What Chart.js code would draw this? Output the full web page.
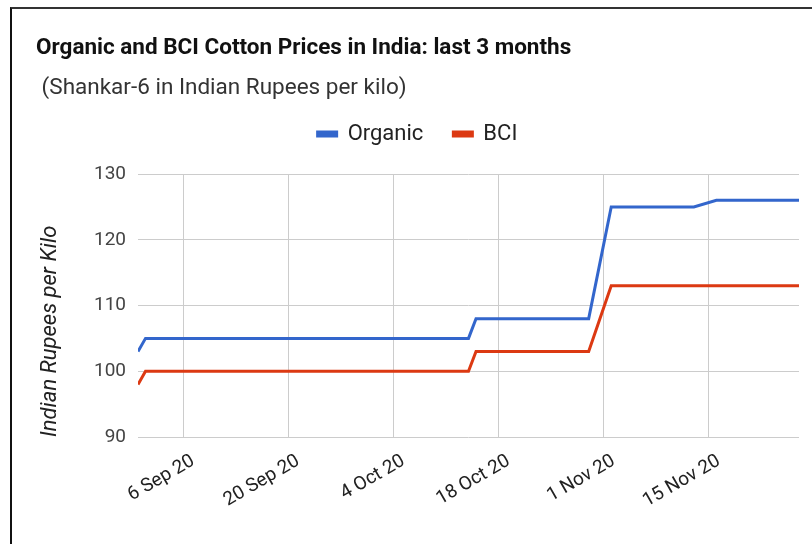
<!DOCTYPE html>
<html>
<head>
<meta charset="utf-8">
<script src="https://cdn.jsdelivr.net/npm/chart.js@4/dist/chart.umd.min.js"></script>
<style>
  html, body { margin: 0; padding: 0; background: #fff; }
  #frame { position: absolute; left: 10px; top: 7px; width: 802px; height: 537px;
           border-top: 2px solid #333; border-left: 2px solid #111; box-sizing: border-box; }
  #wrap { position: absolute; left: 0; top: 0; width: 812px; height: 544px; }
</style>
</head>
<body>
<div id="frame"></div>
<div id="wrap"><canvas id="priceChart"></canvas></div>
<script>
// days counted from 31 Aug 2020
var tickDays = [6, 20, 34, 48, 62, 76];
var tickLabels = ['6 Sep 20', '20 Sep 20', '4 Oct 20', '18 Oct 20', '1 Nov 20', '15 Nov 20'];

var organicDays = [0, 1, 44, 45, 60, 63, 74, 77, 88];
var organicPrices = [103, 105, 105, 108, 108, 125, 125, 126, 126];

var bciDays = [0, 1, 44, 45, 60, 63, 88];
var bciPrices = [98, 100, 100, 103, 103, 113, 113];

function toPoints(days, values) {
  return days.map(function (d, i) { return { x: d, y: values[i] }; });
}

// leave some room between the legend and the plot
var legendGap = {
  id: 'legendGap',
  beforeLayout: function (chart) {
    var lg = chart.legend;
    if (lg && !lg._gapDone) {
      var fit = lg.fit;
      lg.fit = function () { fit.call(this); this.height += 19; };
      lg._gapDone = true;
    }
  }
};

var ctx = document.getElementById('priceChart').getContext('2d');
var priceChart = new Chart(ctx, {
  type: 'line',
  data: {
    datasets: [
      {
        label: 'Organic',
        data: toPoints(organicDays, organicPrices),
        borderColor: '#3366cc',
        backgroundColor: '#3366cc',
        borderWidth: 3,
        pointRadius: 0,
        tension: 0
      },
      {
        label: 'BCI',
        data: toPoints(bciDays, bciPrices),
        borderColor: '#dc3912',
        backgroundColor: '#dc3912',
        borderWidth: 3,
        pointRadius: 0,
        tension: 0
      }
    ]
  },
  options: {
    responsive: true,
    maintainAspectRatio: false,
    animation: false,
    layout: { padding: { left: 36, right: 13, top: 0, bottom: 0 } },
    scales: {
      x: {
        type: 'linear',
        min: 0,
        max: 88,
        afterBuildTicks: function (axis) {
          axis.ticks = tickDays.map(function (d) { return { value: d }; });
        },
        afterFit: function (axis) { axis.height = 107; },
        grid: { color: '#cccccc', drawTicks: false },
        border: { display: false },
        ticks: {
          minRotation: 30,
          maxRotation: 30,
          autoSkip: false,
          padding: 13,
          labelOffset: 10,
          color: '#222',
          font: { family: 'Roboto', size: 19 },
          callback: function (value) {
            var i = tickDays.indexOf(value);
            return i >= 0 ? tickLabels[i] : '';
          }
        }
      },
      y: {
        min: 90,
        max: 130,
        afterFit: function (axis) { axis.width = 102; },
        grid: { color: '#cccccc', drawTicks: false },
        border: { display: false },
        ticks: {
          stepSize: 10,
          padding: 12,
          color: '#444',
          font: { family: 'Roboto', size: 19 }
        },
        title: {
          display: true,
          text: 'Indian Rupees per Kilo',
          align: 'start',
          color: '#222',
          padding: { top: 1, bottom: 0 },
          font: { family: 'Roboto', size: 22, style: 'italic' }
        }
      }
    },
    plugins: {
      title: {
        display: true,
        text: 'Organic and BCI Cotton Prices in India: last 3 months',
        align: 'start',
        color: '#111',
        padding: { top: 35, bottom: 13 },
        font: { family: 'Roboto', size: 22.5, weight: 'bold' }
      },
      subtitle: {
        display: true,
        text: ' (Shankar-6 in Indian Rupees per kilo)',
        align: 'start',
        color: '#333',
        padding: { top: 0, bottom: -9 },
        font: { family: 'Roboto', size: 22.5 }
      },
      legend: {
        labels: {
          boxWidth: 19,
          boxHeight: 4,
          padding: 30,
          color: '#222',
          font: { family: 'Roboto', size: 22 }
        }
      },
      tooltip: { enabled: false }
    }
  },
  plugins: [legendGap]
});
</script>
</body>
</html>
